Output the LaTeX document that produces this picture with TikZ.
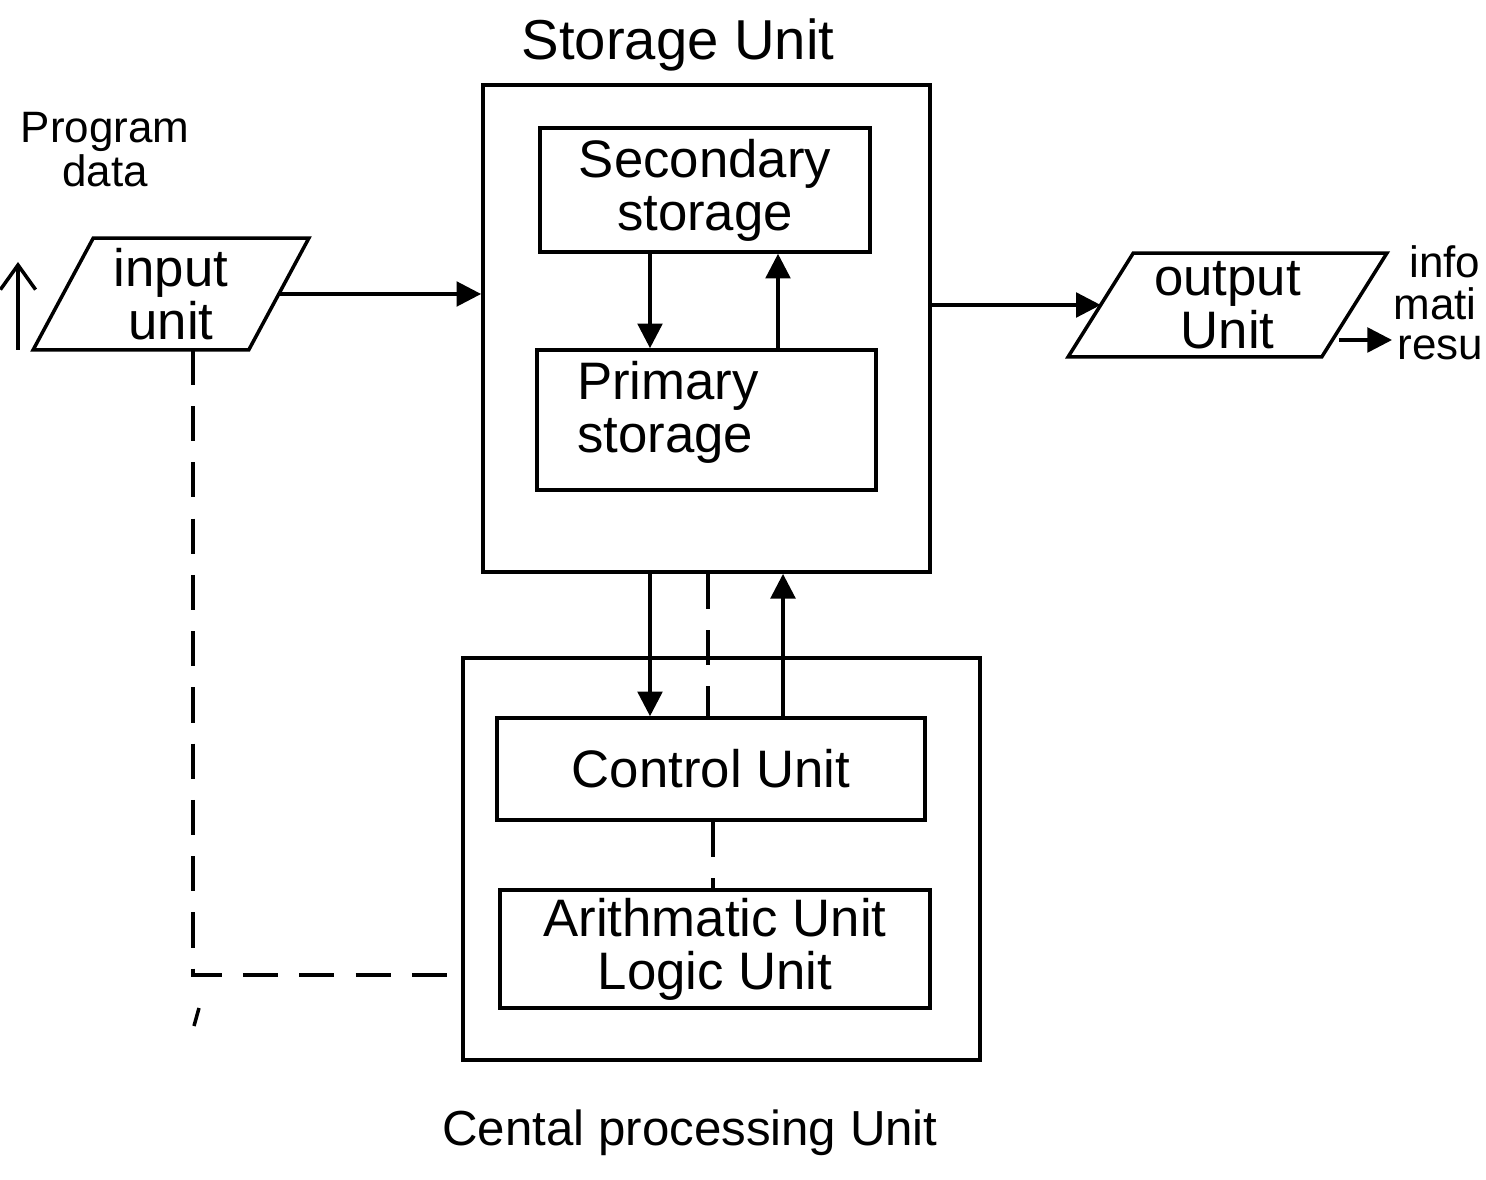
\documentclass[tikz,border=0pt]{standalone}
\usepackage{fontspec}
\setmainfont{Liberation Sans}
\usetikzlibrary{arrows.meta,calc}
\begin{document}
\begin{tikzpicture}[x=0.01cm,y=-0.01cm,line width=1pt,
  box/.style={draw,rectangle,inner sep=0pt},
  lbl/.style={font=\fontsize{15}{15}\selectfont,align=center},
  infotxt/.style={anchor=west,inner sep=0.5pt,font=\fontsize{12.5}{12.5}\selectfont},
  arr/.style={-{Triangle[length=7pt,width=7pt]}},
  barb/.style={-{Straight Barb[length=7pt,width=10pt]}},
  dsh/.style={dash pattern=on 10pt off 6pt}]
\useasboundingbox (0,0) rectangle (1486,1180);
\fill[white] (0,0) rectangle (1486,1180);

% storage unit
\node[box,minimum width=4.47cm,minimum height=4.87cm] (storage) at (706.5,328.5) {};
\node[font=\fontsize{16}{16}\selectfont] (stitle) at (678,45) {Storage Unit};
\node[box,lbl,minimum width=3.30cm,minimum height=1.24cm] (secondary) at (705,190) {Secondary\\storage};
\node[box,minimum width=3.39cm,minimum height=1.40cm] (primary) at (706.5,420) {};
\node[lbl,align=left] (primarytxt) at (668,412) {Primary\\storage};

% cpu
\node[box,minimum width=5.17cm,minimum height=4.02cm] (cpu) at (721.5,859) {};
\node[box,lbl,minimum width=4.28cm,minimum height=1.02cm] (control) at (711,769) {Control Unit};
\node[box,lbl,minimum width=4.30cm,minimum height=1.18cm] (alu) at (715,949) {Arithmatic Unit\\Logic Unit};
\node[font=\fontsize{14}{14}\selectfont] (ctitle) at (690,1133) {Cental processing Unit};

% input unit
\node[lbl,inner sep=0pt,minimum width=2.12cm,minimum height=1.08cm] (input) at (171,294) {input\\unit};
\draw ($(input.north west)+(30,0)$) -- ($(input.north east)+(30,0)$) -- ($(input.south east)+(-30,0)$) -- ($(input.south west)+(-30,0)$) -- cycle;
\node[font=\fontsize{12.5}{12.5}\selectfont,align=center] (prog) at (105,150) {Program\\data};
\coordinate (upA) at (18,350);
\coordinate (upB) at (18,262);
\draw[barb] (upA) -- (upB);

% output unit
\node[lbl,inner sep=0pt,minimum width=2.50cm,minimum height=1.00cm] (output) at (1227.5,305) {output\\Unit};
\draw ($(output.north west)+(32.5,0)$) -- ($(output.north east)+(32.5,0)$) -- ($(output.south east)+(-32.5,0)$) -- ($(output.south west)+(-32.5,0)$) -- cycle;
\coordinate (outR) at (1339,340);
\coordinate (res) at (1392,340);
\draw[arr] (outR) -- (res);
\node[infotxt] (info1) at (1406,262) {info};
\node[infotxt] (info2) at (1390,304) {mati};
\node[infotxt] (info3) at (1394,348) {resu};

% connectors
\draw[arr] (input.east) -- (input.east -| storage.west);
\draw[arr] (storage.east |- output.west) -- (output.west);

\coordinate (sa) at (650,0);
\coordinate (sb) at (778,0);
\draw[arr] (secondary.south -| sa) -- (primary.north -| sa);
\draw[arr] (primary.north -| sb) -- (secondary.south -| sb);

\coordinate (ca) at (650,0);
\coordinate (cb) at (708,0);
\coordinate (cc) at (783,0);
\coordinate (cd) at (713,0);
\draw[arr] (storage.south -| ca) -- (control.north -| ca);
\draw[dsh] (storage.south -| cb) -- (control.north -| cb);
\draw[arr] (control.north -| cc) -- (storage.south -| cc);
\draw[dsh] (control.south -| cd) -- (alu.north -| cd);

\coordinate (dk) at (193,975);
\draw[dsh] (input.south -| dk) -- (dk) -- (dk -| cpu.west);
\coordinate (st1) at (199,1008);
\coordinate (st2) at (194,1026);
\draw (st1) -- (st2);
\end{tikzpicture}
\end{document}
